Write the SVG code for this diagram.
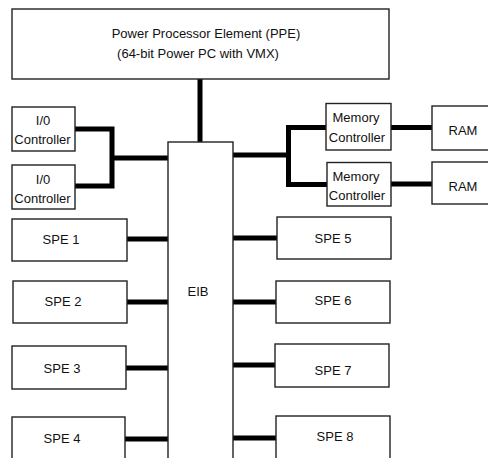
<svg xmlns="http://www.w3.org/2000/svg" width="488" height="458" viewBox="0 0 488 458">
<style>
.box{fill:#fff;stroke:#222;stroke-width:1.4}
.t{font-family:"Liberation Sans",Arial,sans-serif;font-size:13px;fill:#111;text-anchor:middle}
.c{fill:none;stroke:#000;stroke-width:5;stroke-linejoin:miter}
</style>
<rect width="488" height="458" fill="#fff"/>
<g id="connectors">
<path class="c" d="M200,79 V142"/>
<path class="c" d="M75,129 H112 V186 H75 M112,158 H168"/>
<path class="c" d="M233,155 H288.5 M391,127.5 H288.5 V184.5 H391"/>
<path class="c" d="M391,127.5 H432 M391,184 H432"/>
<path class="c" d="M127,239 H168 M127,302 H168 M126,368 H168 M125,439 H168"/>
<path class="c" d="M233,238 H277 M233,302 H276 M233,365 H275 M233,438 H276"/>
</g>
<g id="eib"><rect class="box" x="168" y="142" width="65" height="330"/><text class="t" x="198" y="296">EIB</text></g>
<g id="ppe"><rect class="box" x="12" y="9" width="377" height="70"/><text class="t" x="206" y="38">Power Processor Element (PPE)</text><text class="t" x="198" y="58">(64-bit Power PC with VMX)</text></g>
<g id="io1"><rect class="box" x="12" y="107" width="63" height="44"/><text class="t" x="43" y="125">I/0</text><text class="t" x="42.5" y="144">Controller</text></g>
<g id="io2"><rect class="box" x="12" y="165" width="63" height="44"/><text class="t" x="43" y="184">I/0</text><text class="t" x="42.5" y="203">Controller</text></g>
<g id="mem1"><rect class="box" x="326" y="103.5" width="65" height="46.5"/><text class="t" x="356" y="122">Memory</text><text class="t" x="357" y="142">Controller</text></g>
<g id="mem2"><rect class="box" x="327" y="162.5" width="64" height="43.5"/><text class="t" x="356" y="181">Memory</text><text class="t" x="357" y="200">Controller</text></g>
<g id="ram1"><rect class="box" x="432" y="106" width="60" height="44"/><text class="t" x="463" y="135">RAM</text></g>
<g id="ram2"><rect class="box" x="432" y="162" width="60" height="42"/><text class="t" x="463" y="191">RAM</text></g>
<g id="spe1"><rect class="box" x="12" y="219" width="115" height="42"/><text class="t" x="61" y="244">SPE 1</text></g>
<g id="spe2"><rect class="box" x="13" y="281" width="114" height="42"/><text class="t" x="63" y="306">SPE 2</text></g>
<g id="spe3"><rect class="box" x="12" y="346" width="114" height="43"/><text class="t" x="62" y="373">SPE 3</text></g>
<g id="spe4"><rect class="box" x="12" y="417" width="113" height="50"/><text class="t" x="62" y="443">SPE 4</text></g>
<g id="spe5"><rect class="box" x="277" y="217" width="114" height="42"/><text class="t" x="333" y="243">SPE 5</text></g>
<g id="spe6"><rect class="box" x="276" y="281" width="114" height="42"/><text class="t" x="333" y="305">SPE 6</text></g>
<g id="spe7"><rect class="box" x="275" y="344" width="114" height="43"/><text class="t" x="333" y="375">SPE 7</text></g>
<g id="spe8"><rect class="box" x="276" y="416" width="114" height="50"/><text class="t" x="335" y="441">SPE 8</text></g>
</svg>
